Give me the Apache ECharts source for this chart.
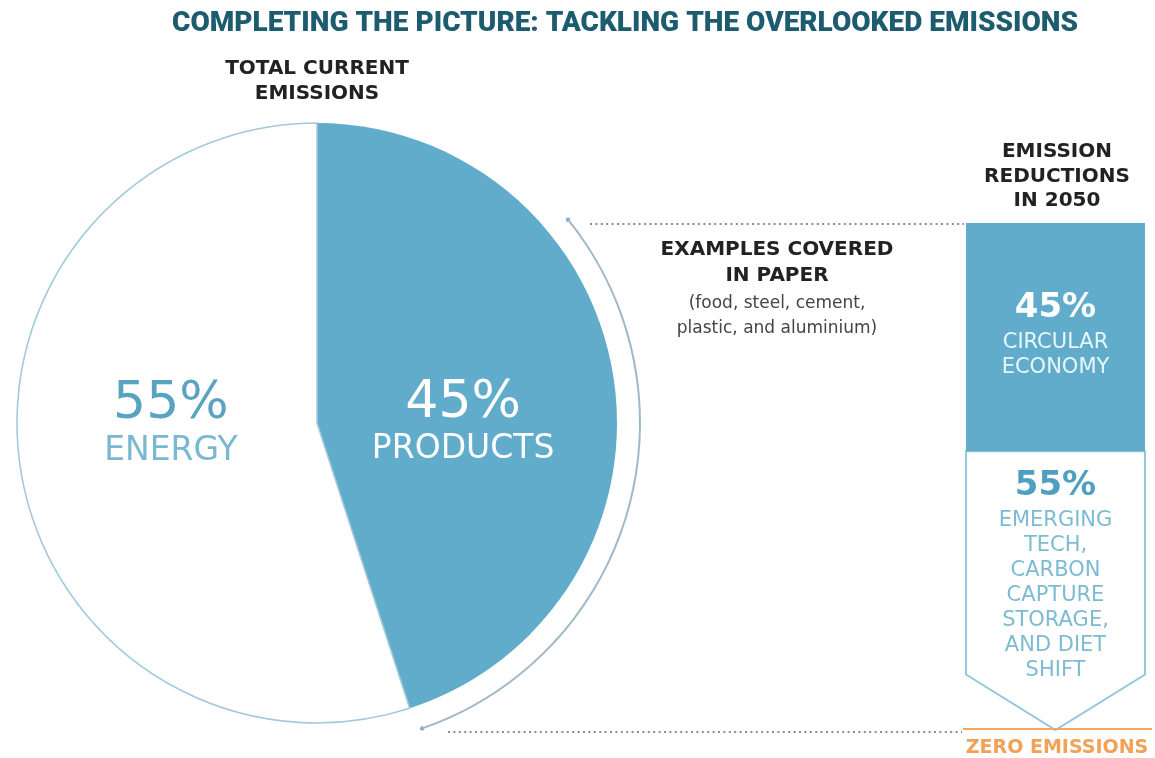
<!DOCTYPE html>
<html>
<head>
<meta charset="utf-8">
<script src="https://cdn.jsdelivr.net/npm/echarts@6/dist/echarts.min.js"></script>
<style>
  html, body { margin: 0; padding: 0; background: #ffffff; }
  #chart { width: 1155px; height: 758px; }
</style>
</head>
<body>
<div id="chart"></div>
<script>
// Headline and annotation texts
const titleText = 'COMPLETING THE PICTURE: TACKLING THE OVERLOOKED EMISSIONS';
const pieHeading = 'TOTAL CURRENT\nEMISSIONS';
const columnHeading = 'EMISSION\nREDUCTIONS\nIN 2050';
const examplesHeading = 'EXAMPLES COVERED\nIN PAPER';
const examplesList = '(food, steel, cement,\nplastic, and aluminium)';
const zeroLabel = 'ZERO EMISSIONS';

// Share of total current emissions (pie, clockwise from 12 o'clock)
const pieNames = ['PRODUCTS', 'ENERGY'];
const pieShares = [45, 55];

// Emission reductions in 2050 (column, stacked from zero upward)
const columnNames = ['EMERGING\nTECH,\nCARBON\nCAPTURE\nSTORAGE,\nAND DIET\nSHIFT', 'CIRCULAR\nECONOMY'];
const columnShares = [55, 45];

const BLUE = '#60acca';
const FONT = '"DejaVu Sans", sans-serif';

// Layout constants
const PIE_C = [317, 423];
const PIE_R = 300;
const ARC_R = 323;
const ARC_FROM = 51, ARC_TO = 161;   // degrees clockwise from 12 o'clock
const COL_TOP = 223, COL_BOTTOM = 730, COL_LEFT = 966, COL_RIGHT = 1145;

function arcPoint(deg) {
  const a = deg * Math.PI / 180;
  return [PIE_C[0] + ARC_R * Math.sin(a), PIE_C[1] - ARC_R * Math.cos(a)];
}
const arcStart = arcPoint(ARC_FROM);
const arcEnd = arcPoint(ARC_TO);

const chart = echarts.init(document.getElementById('chart'), null, { renderer: 'canvas' });

const option = {
  backgroundColor: '#ffffff',
  animation: false,
  title: {
    text: titleText,
    left: 167,
    top: 5,
    textStyle: { fontFamily: 'Roboto, sans-serif', fontWeight: 900, fontSize: 28, color: '#1d5b6f' }
  },
  grid: {
    left: COL_LEFT,
    width: COL_RIGHT - COL_LEFT,
    top: COL_TOP,
    height: COL_BOTTOM - COL_TOP
  },
  xAxis: { type: 'value', min: 0, max: 1, show: false },
  yAxis: { type: 'value', min: 0, max: 100, show: false },
  series: [
    {
      // thin bracket arc beside the products slice
      type: 'pie',
      silent: true,
      center: PIE_C,
      radius: [ARC_R - 1, ARC_R + 1],
      startAngle: 90,
      label: { show: false },
      labelLine: { show: false },
      emphasis: { disabled: true },
      data: [
        { value: ARC_FROM, itemStyle: { color: 'transparent' } },
        { value: ARC_TO - ARC_FROM, itemStyle: { color: '#9fb9c8' } },
        { value: 360 - ARC_TO, itemStyle: { color: 'transparent' } }
      ]
    },
    {
      type: 'pie',
      silent: true,
      center: PIE_C,
      radius: PIE_R,
      startAngle: 90,
      clockwise: true,
      emphasis: { disabled: true },
      labelLine: { show: false },
      data: pieNames.map((n, i) => ({
        name: n,
        value: pieShares[i],
        itemStyle: i === 0
          ? { color: BLUE, borderWidth: 0 }
          : { color: '#ffffff', borderColor: '#a2cadc', borderWidth: 1.6 },
        label: {
          show: true,
          position: 'inside',
          formatter: p => '{p|' + p.value + '%}\n{n|' + p.name + '}',
          rich: {
            p: { fontFamily: FONT, fontSize: 52, lineHeight: 54, color: i === 0 ? '#ffffff' : '#5aa3c0', align: 'center' },
            n: { fontFamily: FONT, fontSize: 33, lineHeight: 38, color: i === 0 ? '#ffffff' : '#7ab8cf', align: 'center' }
          }
        }
      })),
      labelLayout: p => (p.dataIndex === 0 ? { dx: -5, dy: 23 } : { dx: 5, dy: -23 })
    },
    {
      type: 'custom',
      silent: true,
      coordinateSystem: 'cartesian2d',
      data: columnShares.map((v, i) => [i, v]),
      renderItem: (params, api) => {
        const i = params.dataIndex;
        const base = columnShares.slice(0, i).reduce((a, b) => a + b, 0);
        const top = base + api.value(1);
        const pB = api.coord([0, base]);
        const pT = api.coord([1, top]);
        const x0 = pB[0], x1 = pT[0], yB = pB[1], yT = pT[1];
        const cx = (x0 + x1) / 2;
        const words = columnNames[i].split('\n').map(w => '{n|' + w + '}').join('\n');
        const txt = '{v|' + columnShares[i] + '%}\n' + words;
        if (i === 1) {
          return {
            type: 'group',
            children: [
              { type: 'rect', shape: { x: x0, y: yT, width: x1 - x0, height: yB - yT }, style: { fill: BLUE } },
              {
                type: 'text',
                style: {
                  text: txt, x: cx, y: (yT + yB) / 2 - 4, align: 'center', verticalAlign: 'middle',
                  rich: {
                    v: { fontFamily: FONT, fontWeight: 'bold', fontSize: 34, lineHeight: 44, fill: '#ffffff', align: 'center' },
                    n: { fontFamily: FONT, fontSize: 21, lineHeight: 25, fill: '#e8f6fb', align: 'center' }
                  }
                }
              }
            ]
          };
        }
        const sh = (x1 - x0) * 0.31;
        return {
          type: 'group',
          children: [
            {
              type: 'polygon',
              shape: { points: [[x0, yT], [x1, yT], [x1, yB - sh], [cx, yB], [x0, yB - sh]] },
              style: { fill: '#ffffff', stroke: '#94c8dc', lineWidth: 2 }
            },
            {
              type: 'text',
              style: {
                text: txt, x: cx, y: yT + 13, align: 'center', verticalAlign: 'top',
                rich: {
                  v: { fontFamily: FONT, fontWeight: 'bold', fontSize: 34, lineHeight: 44, fill: '#4f9fbf', align: 'center' },
                  n: { fontFamily: FONT, fontSize: 21, lineHeight: 25, fill: '#7dbbd2', align: 'center' }
                }
              }
            }
          ]
        };
      },
      z: 3
    }
  ],
  graphic: [
    {
      type: 'text', x: PIE_C[0], y: 56,
      style: { text: pieHeading, font: 'bold 20px ' + FONT, fill: '#222222', textAlign: 'center', textVerticalAlign: 'top', lineHeight: 25 }
    },
    {
      type: 'text', x: 1057, y: 140,
      style: { text: columnHeading, font: 'bold 20px ' + FONT, fill: '#222222', textAlign: 'center', textVerticalAlign: 'top', lineHeight: 24.5 }
    },
    {
      type: 'text', x: 777, y: 237,
      style: { text: examplesHeading, font: 'bold 20px ' + FONT, fill: '#222222', textAlign: 'center', textVerticalAlign: 'top', lineHeight: 26 }
    },
    {
      type: 'text', x: 777, y: 291,
      style: { text: examplesList, font: '17px ' + FONT, fill: '#444444', textAlign: 'center', textVerticalAlign: 'top', lineHeight: 25 }
    },
    {
      type: 'line', shape: { x1: 590, y1: COL_TOP + 1, x2: COL_LEFT - 2, y2: COL_TOP + 1 },
      style: { stroke: '#7f909c', lineWidth: 2, lineDash: [2, 3.4] }
    },
    {
      type: 'line', shape: { x1: 448, y1: COL_BOTTOM + 2, x2: COL_LEFT - 4, y2: COL_BOTTOM + 2 },
      style: { stroke: '#7f909c', lineWidth: 2, lineDash: [2, 3.4] }
    },
    {
      type: 'line', z: 10, shape: { x1: COL_LEFT - 3, y1: COL_BOTTOM - 1, x2: 1152, y2: COL_BOTTOM - 1 },
      style: { stroke: '#f3a65e', lineWidth: 2 }
    },
    {
      type: 'text', x: 1057, y: 748,
      style: { text: zeroLabel, font: 'bold 19px ' + FONT, fill: '#f2a257', textAlign: 'center', textVerticalAlign: 'middle' }
    },
    { type: 'circle', shape: { cx: arcStart[0], cy: arcStart[1], r: 2.2 }, style: { fill: '#8fa9ba' } },
    { type: 'circle', shape: { cx: arcEnd[0], cy: arcEnd[1], r: 2.2 }, style: { fill: '#8fa9ba' } }
  ]
};

chart.setOption(option);
</script>
</body>
</html>
